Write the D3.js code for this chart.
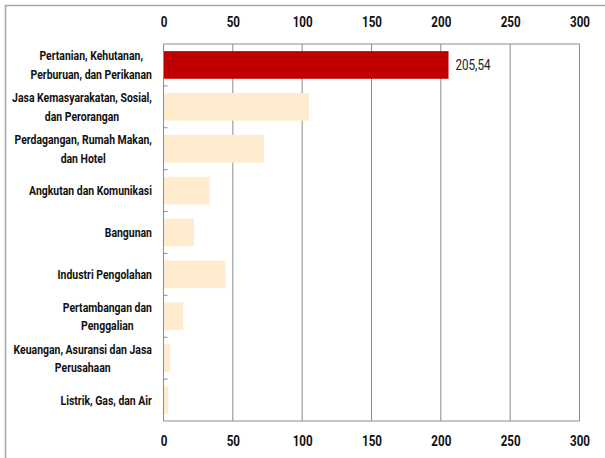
<!DOCTYPE html>
<html>
<head>
<meta charset="utf-8">
<script src="https://cdn.jsdelivr.net/npm/d3@7"></script>
<style>
  html, body { margin: 0; padding: 0; background: #fff; }
  svg { display: block; }
  text { font-family: Roboto, "Open Sans", sans-serif; }
</style>
</head>
<body>
<svg id="chart" width="605" height="458"></svg>
<script>
// Sector names (label lines) and values
const categories = [
  ["Pertanian, Kehutanan,", "Perburuan, dan Perikanan"],
  ["Jasa Kemasyarakatan, Sosial,", "dan Perorangan"],
  ["Perdagangan, Rumah Makan,", "dan Hotel"],
  ["Angkutan dan Komunikasi"],
  ["Bangunan"],
  ["Industri Pengolahan"],
  ["Pertambangan dan", "Penggalian"],
  ["Keuangan, Asuransi dan Jasa", "Perusahaan"],
  ["Listrik, Gas, dan Air"]
];
const values = [205.54, 104.9, 72.4, 33.2, 21.9, 44.7, 14.2, 4.8, 3.4];
const tickValues = [0, 50, 100, 150, 200, 250, 300];
const highlightIndex = 0;
const valueLabel = "205,54";

const svg = d3.select("#chart");
const margin = { left: 163.5, right: 25.5, top: 44, bottom: 37 };
const W = 605, H = 458;
const labelRight = 152;

// outer frame (top and left edges)
svg.append("line").attr("x1", 5).attr("x2", W).attr("y1", 5.5).attr("y2", 5.5)
  .attr("stroke", "#a6a6a6").attr("stroke-width", 1.5);
svg.append("line").attr("x1", 5.5).attr("x2", 5.5).attr("y1", 5).attr("y2", H)
  .attr("stroke", "#a6a6a6").attr("stroke-width", 1.5);

const x = d3.scaleLinear().domain([0, 300]).range([margin.left, W - margin.right]);
const y = d3.scaleBand().domain(d3.range(categories.length))
  .range([margin.top, H - margin.bottom]).paddingInner(0.34).paddingOuter(0.17);
const band = d3.scaleBand().domain(d3.range(categories.length))
  .range([margin.top, H - margin.bottom]);

const gridColor = "#8c8c8c";

// vertical gridlines
svg.append("g").selectAll("line").data(tickValues.slice(1)).join("line")
  .attr("x1", d => x(d)).attr("x2", d => x(d))
  .attr("y1", margin.top).attr("y2", H - margin.bottom)
  .attr("stroke", gridColor).attr("stroke-width", 1);

// top border of plot
svg.append("line").attr("x1", x(0)).attr("x2", x(300))
  .attr("y1", margin.top).attr("y2", margin.top)
  .attr("stroke", gridColor).attr("stroke-width", 1);

// bars
svg.append("g").selectAll("rect").data(values).join("rect")
  .attr("x", x(0))
  .attr("y", (d, i) => y(i))
  .attr("width", d => x(d) - x(0))
  .attr("height", y.bandwidth())
  .attr("fill", (d, i) => i === highlightIndex ? "#c00000" : "#ffebcd");

// value label for highlighted bar (condensed horizontally)
const vl = svg.append("text")
  .attr("y", y(highlightIndex) + y.bandwidth() / 2 + 0.5)
  .attr("dy", "0.36em")
  .attr("font-size", 14)
  .attr("fill", "#222")
  .text(valueLabel);
{
  const w = vl.node().getComputedTextLength();
  const sx = 35 / w;
  vl.attr("transform", `translate(${x(values[highlightIndex]) + 7},0) scale(${sx},1)`);
}

// left axis with inner category ticks
const leftAxis = svg.append("g");
leftAxis.append("line").attr("x1", x(0)).attr("x2", x(0))
  .attr("y1", margin.top).attr("y2", H - margin.bottom)
  .attr("stroke", gridColor).attr("stroke-width", 1);
leftAxis.selectAll("line.tick").data(d3.range(1, categories.length)).join("line")
  .attr("class", "tick")
  .attr("x1", x(0)).attr("x2", x(0) + 4)
  .attr("y1", i => band(i)).attr("y2", i => band(i))
  .attr("stroke", gridColor);

// bottom axis line
svg.append("line").attr("x1", x(0)).attr("x2", x(300))
  .attr("y1", H - margin.bottom).attr("y2", H - margin.bottom)
  .attr("stroke", gridColor).attr("stroke-width", 1);

// category labels: lines centred within a block that is right-aligned
const labels = svg.append("g").selectAll("text").data(categories).join("text")
  .attr("text-anchor", "middle")
  .attr("font-size", 13)
  .attr("font-weight", "bold")
  .attr("fill", "#111");
labels.each(function(lines, i) {
  const cy = band(i) + band.bandwidth() / 2;
  const lh = 18.5;
  const t = d3.select(this);
  lines.forEach((ln, k) => {
    t.append("tspan")
      .attr("x", 0)
      .attr("y", cy + (k - (lines.length - 1) / 2) * lh)
      .attr("dy", "0.36em")
      .text(ln);
  });
});
// horizontal condensing factor so the widest label line spans ~140px
let refWidth = 0;
labels.filter((d, i) => i === 1).selectAll("tspan").each(function() {
  refWidth = Math.max(refWidth, this.getComputedTextLength());
});
const sxLab = 140 / refWidth;
labels.each(function() {
  let w = 0;
  d3.select(this).selectAll("tspan").each(function() {
    w = Math.max(w, this.getComputedTextLength());
  });
  const cx = labelRight - (w * sxLab) / 2;
  d3.select(this).attr("transform", `translate(${cx},0) scale(${sxLab},1)`);
});

// top and bottom tick labels via d3 axes
const topAxis = d3.axisTop(x).tickValues(tickValues).tickSize(0).tickPadding(0);
const bottomAxis = d3.axisBottom(x).tickValues(tickValues).tickSize(0).tickPadding(0);
function styleAxis(g) {
  g.select(".domain").remove();
  g.selectAll("text")
    .attr("font-size", 14)
    .attr("font-weight", "bold")
    .attr("fill", "#111")
    .style("font-family", "Roboto, \"Open Sans\", sans-serif");
  // condense tick labels so "300" is ~20px wide
  const sample = g.selectAll("text").filter(d => d === 300).node();
  const sx = 20 / sample.getComputedTextLength();
  g.selectAll("text").attr("transform", `scale(${sx},1)`);
}
svg.append("g").attr("transform", "translate(0,26.5)").call(topAxis).call(styleAxis);
svg.append("g").attr("transform", "translate(0,436.5)").call(bottomAxis).call(styleAxis);
</script>
</body>
</html>
